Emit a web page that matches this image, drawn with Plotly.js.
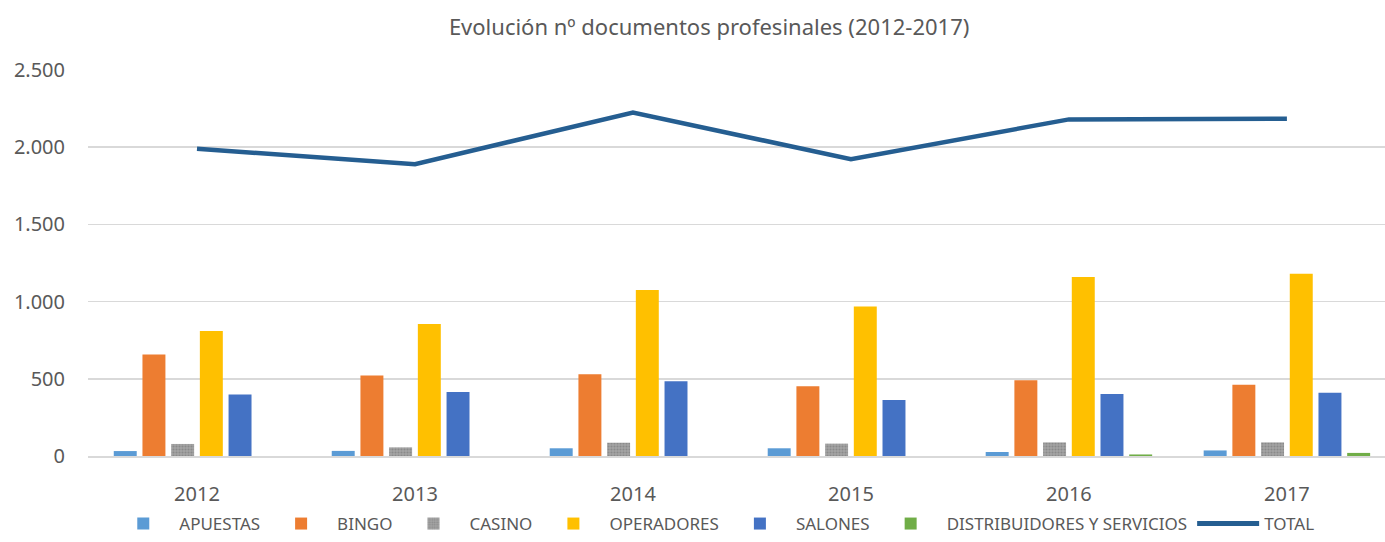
<!DOCTYPE html>
<html>
<head>
<meta charset="utf-8">
<script src="https://cdn.plot.ly/plotly-3.0.1.min.js"></script>
<style>html,body{margin:0;padding:0;background:#fff;}#chart{width:1385px;height:542px;}</style>
</head>
<body>
<div id="chart"></div>
<script>
const years = ['2012', '2013', '2014', '2015', '2016', '2017'];
const apuestas = [32, 33, 50, 50, 26, 36];
const bingo = [658, 522, 530, 452, 490, 462];
const casino = [78, 56, 86, 80, 88, 88];
const operadores = [810, 855, 1075, 968, 1160, 1180];
const salones = [398, 415, 484, 362, 402, 410];
const distribuidores = [0, 0, 0, 0, 10, 20];
const total = [1990, 1890, 2225, 1922, 2180, 2185];
const yTicks = [0, 500, 1000, 1500, 2000, 2500];

const font = 'Noto Sans, Open Sans, sans-serif';
const grey = '#595959';

function bar(name, y, color, extra) {
  const m = Object.assign({color: color}, extra || {});
  return {type: 'bar', name: name, x: years, y: y, marker: m, hoverinfo: 'x+y+name'};
}

const data = [
  bar('APUESTAS', apuestas, '#5B9BD5'),
  bar('BINGO', bingo, '#ED7D31'),
  bar('CASINO', casino, '#A5A5A5', {pattern: {shape: '.', bgcolor: '#A5A5A5', fgcolor: '#8a8a8a', size: 3, solidity: 0.4}}),
  bar('OPERADORES', operadores, '#FFC000'),
  bar('SALONES', salones, '#4472C4'),
  bar('DISTRIBUIDORES Y SERVICIOS', distribuidores, '#70AD47'),
  {type: 'scatter', mode: 'lines', name: 'TOTAL', x: years, y: total,
   line: {color: '#255E91', width: 4.5}}
];

const layout = {
  width: 1385, height: 542,
  margin: {l: 88, r: 0, t: 70, b: 86},
  paper_bgcolor: '#fff', plot_bgcolor: '#fff',
  separators: ',.',
  font: {family: font, color: grey, size: 16},
  title: {text: 'Evolución nº documentos profesinales (2012-2017)',
          font: {family: font, size: 22, color: grey},
          x: 0.512, xref: 'container', xanchor: 'center',
          y: 0.95, yref: 'container', yanchor: 'middle'},
  barmode: 'group', bargap: 0.21, bargroupgap: 0.2,
  xaxis: {type: 'category', range: [-0.5, 5.45], showgrid: false, zeroline: false,
          showline: true, linecolor: '#d9d9d9', linewidth: 1.5,
          ticks: '', ticklabelstandoff: 19,
          tickfont: {family: font, size: 20, color: grey}},
  yaxis: {range: [0, 2500], tickvals: yTicks, tickformat: ',d',
          showgrid: true, gridcolor: '#d9d9d9', gridwidth: 1.5,
          zeroline: false, showline: false, ticks: '', ticklabelstandoff: 22,
          tickfont: {family: font, size: 20, color: grey}},
  legend: {orientation: 'h', xref: 'container', x: 0.515, xanchor: 'center',
           yref: 'container', y: -0.017, yanchor: 'bottom',
           font: {family: font, size: 17, color: grey}, traceorder: 'normal',
           itemwidth: 62, itemsizing: 'constant', tracegroupgap: 0},
  showlegend: true
};

Plotly.newPlot('chart', data, layout, {displayModeBar: false, staticPlot: true});
</script>
</body>
</html>
